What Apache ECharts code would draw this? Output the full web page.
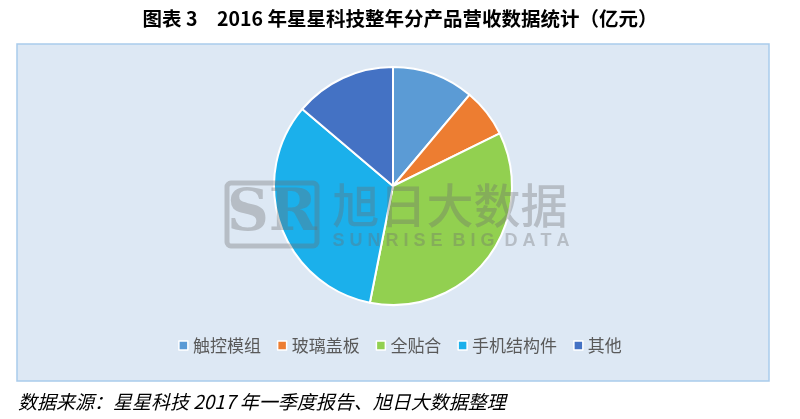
<!DOCTYPE html>
<html>
<head>
<meta charset="utf-8">
<script src="https://cdn.jsdelivr.net/npm/echarts@6/dist/echarts.min.js"></script>
<style>
html,body{margin:0;padding:0;background:#fff;}
#c{width:800px;height:419px;}
</style>
</head>
<body>
<div id="c"></div>
<script>
var categories = ['触控模组', '玻璃盖板', '全贴合', '手机结构件', '其他'];
var values = [2.30, 1.37, 7.33, 6.85, 2.86];
var colors = ['#5B9BD5', '#ED7D31', '#92D050', '#1BB0EB', '#4472C4'];
var titleText = '图表 3　2016 年星星科技整年分产品营收数据统计（亿元）';
var sourceText = '数据来源：星星科技 2017 年一季度报告、旭日大数据整理';

var chart = echarts.init(document.getElementById('c'), null, {renderer: 'canvas'});
var font = '"Noto Sans CJK SC", "Noto Sans", sans-serif';
var wm = 'rgba(110,110,110,0.35)';
chart.setOption({
  animation: false,
  backgroundColor: '#ffffff',
  title: {
    text: titleText,
    left: 'center',
    top: 4,
    textStyle: {fontFamily: font, fontSize: 19.5, fontWeight: 'bold', color: '#000'}
  },
  legend: {
    bottom: 60,
    left: 'center',
    icon: 'rect',
    itemWidth: 9,
    itemHeight: 9,
    itemGap: 16,
    data: categories,
    itemStyle: {borderColor: '#ffffff', borderWidth: 1.5},
    textStyle: {fontFamily: font, fontSize: 17, color: '#595959'}
  },
  graphic: [
    {type: 'rect', z: -10, silent: true, shape: {x: 17, y: 44, width: 752, height: 337},
     style: {fill: '#DDE8F4', stroke: '#A9CBEB', lineWidth: 1.5}},
    {type: 'text', left: 18, top: 392, silent: true,
     style: {text: sourceText, font: 'italic 19px ' + font, fill: '#000'}},
    {type: 'rect', zlevel: 1, silent: true, shape: {x: 227, y: 183, width: 90, height: 63, r: 4},
     style: {fill: 'none', stroke: wm, lineWidth: 5}},
    {type: 'text', zlevel: 1, silent: true, x: 272, y: 215,
     style: {text: 'SR', font: 'bold 58px "DejaVu Serif", serif', fill: wm, align: 'center', verticalAlign: 'middle'}},
    {type: 'text', zlevel: 1, silent: true, x: 450, y: 205,
     style: {text: '旭日大数据', font: '500 47px ' + font, fill: wm, align: 'center', verticalAlign: 'middle'}},
    {type: 'text', zlevel: 1, silent: true, x: 451, y: 241,
     style: {text: 'S U N R I S E  B I G  D A T A', font: 'bold 18px "Liberation Sans", Arial, sans-serif', fill: wm, align: 'center', verticalAlign: 'middle'}}
  ],
  series: [{
    type: 'pie',
    center: [393, 186],
    radius: [0, 119],
    startAngle: 90,
    clockwise: true,
    label: {show: false},
    labelLine: {show: false},
    itemStyle: {borderColor: '#ffffff', borderWidth: 2},
    emphasis: {disabled: true},
    data: categories.map(function (n, i) {
      return {name: n, value: values[i], itemStyle: {color: colors[i]}};
    })
  }]
});
</script>
</body>
</html>
